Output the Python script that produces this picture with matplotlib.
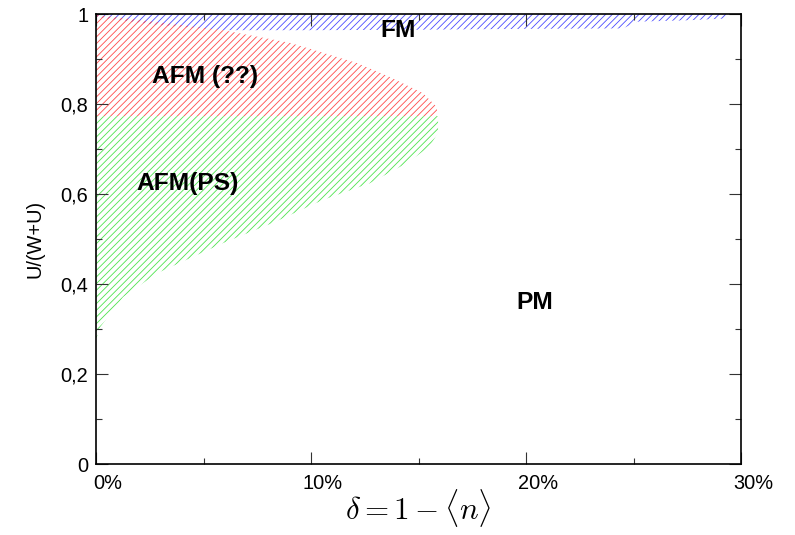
import matplotlib
matplotlib.use("Agg")
import matplotlib.pyplot as plt
import matplotlib.transforms as mtransforms
from matplotlib.ticker import MultipleLocator, FixedLocator

# ---- data (x in %, y = U/(W+U)) ----
fm_x = [0, 2.8, 5.9, 10, 15, 20, 24.5, 25.2, 27.5, 29.3]
fm_lower = [0.993, 0.976, 0.964, 0.964, 0.965, 0.967, 0.968, 0.983, 0.986, 0.99]
fm_upper = 1.0

afm_x = [0, 2.84, 5.91, 9.02, 12.14, 13.67, 15.21, 15.86]
afm_upper = [0.998, 0.982, 0.964, 0.936, 0.891, 0.86, 0.824, 0.793]
afm_lower = 0.773

ps_x = [0, 0.19, 1.26, 2.84, 5.91, 8.23, 10.56, 12.74, 14.47, 15.5, 15.91]
ps_lower = [0.276, 0.304, 0.371, 0.424, 0.491, 0.536, 0.587, 0.624, 0.669, 0.705, 0.736]
ps_upper = 0.773

xticks = [0, 10, 20, 30]
xtick_labels = ["0%", "10%", "20%", "30%"]
yticks = [0, 0.2, 0.4, 0.6, 0.8, 1.0]
ytick_labels = ["0", "0,2", "0,4", "0,6", "0,8", "1"]

labels = ["FM", "AFM (??)", "AFM(PS)", "PM"]
label_x = [14.05, 5.07, 4.28, 20.4]
label_y = [0.949, 0.847, 0.609, 0.344]

DPI = 80
plt.rcParams['font.family'] = ['Liberation Sans', 'DejaVu Sans']
plt.rcParams['mathtext.fontset'] = 'cm'
plt.rcParams['hatch.linewidth'] = 0.75

fig = plt.figure(figsize=(795 / DPI, 535 / DPI), dpi=DPI)
ax = fig.add_axes([96 / 795, (535 - 464) / 535, 645 / 795, 450 / 535])

ax.fill_between(fm_x, fm_lower, fm_upper, facecolor='none', edgecolor='#4a4aff',
                hatch='////', linewidth=0)
ax.fill_between(afm_x, afm_lower, afm_upper, facecolor='none', edgecolor='#ff4a4a',
                hatch='////', linewidth=0)
ax.fill_between(ps_x, ps_lower, ps_upper, facecolor='none', edgecolor='#4ee44e',
                hatch='////', linewidth=0)

for t, x, y in zip(labels, label_x, label_y):
    ax.text(x, y, t, ha='center', va='baseline', fontsize=22, fontweight='bold',
            color='black')

ax.set_xlim(0, 30)
ax.set_ylim(0, 1)
ax.xaxis.set_major_locator(FixedLocator(xticks))
ax.xaxis.set_minor_locator(MultipleLocator(5))
ax.yaxis.set_major_locator(FixedLocator(yticks))
ax.yaxis.set_minor_locator(MultipleLocator(0.1))
ax.set_xticklabels(xtick_labels)
ax.set_yticklabels(ytick_labels)

ax.tick_params(which='both', direction='in', top=True, right=True, width=1.0,
               color='#333333', labelsize=18)
ax.tick_params(which='major', length=11)
ax.tick_params(which='minor', length=5.5)
ax.tick_params(axis='y', pad=7)
ax.tick_params(axis='x', pad=9)

offset = mtransforms.ScaledTranslation(12 / DPI, 0, fig.dpi_scale_trans)
for lab in ax.get_xticklabels():
    lab.set_transform(lab.get_transform() + offset)

for sp in ax.spines.values():
    sp.set_linewidth(1.5)
    sp.set_color('black')

ax.set_ylabel("U/(W+U)", fontsize=18, labelpad=14)
ax.set_xlabel(r"$\delta = 1 - \langle n\rangle$", fontsize=28, labelpad=-5)

fig.savefig("out.png", dpi=DPI)
